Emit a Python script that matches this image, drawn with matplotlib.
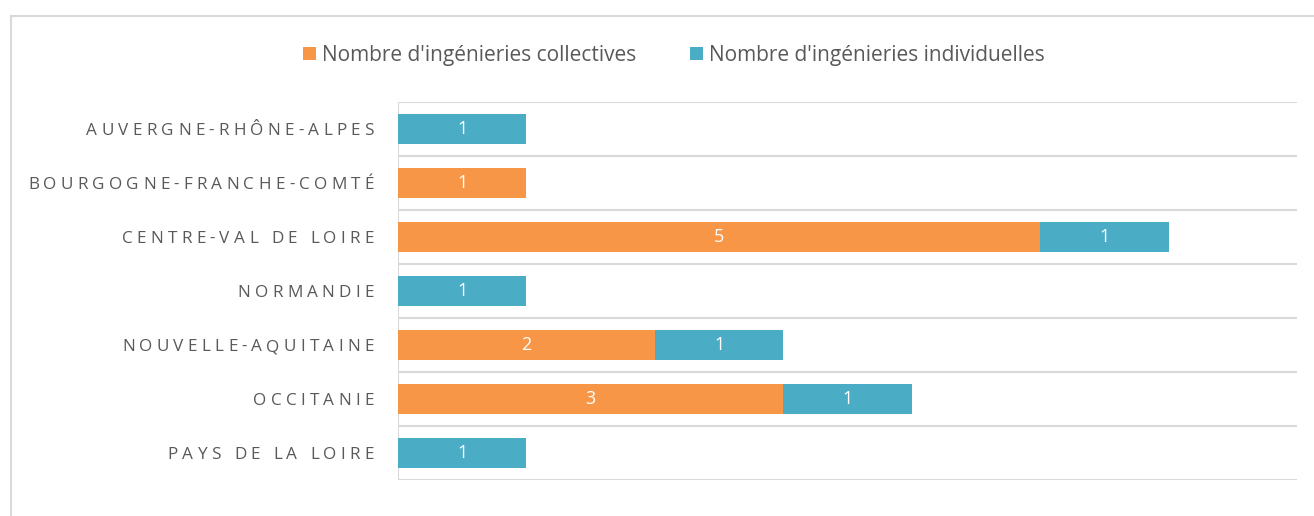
import matplotlib.pyplot as plt
import matplotlib.transforms as mtransforms
from matplotlib.font_manager import FontProperties

# Data
regions = [
    "AUVERGNE-RHÔNE-ALPES",
    "BOURGOGNE-FRANCHE-COMTÉ",
    "CENTRE-VAL DE LOIRE",
    "NORMANDIE",
    "NOUVELLE-AQUITAINE",
    "OCCITANIE",
    "PAYS DE LA LOIRE",
]
collectives = [0, 1, 5, 0, 2, 3, 0]
individuelles = [1, 0, 1, 1, 1, 1, 1]
series_names = ["Nombre d'ingénieries collectives", "Nombre d'ingénieries individuelles"]

ORANGE = "#F79646"
BLUE = "#4BACC6"
GRID = "#D9D9D9"
TEXT = "#595959"
DPI = 100

plt.rcParams["font.family"] = ["Open Sans", "DejaVu Sans"]

fig = plt.figure(figsize=(13.14, 5.16), dpi=DPI)
ax = fig.add_axes([398 / 1314, 36 / 516, 899 / 1314, 378 / 516])

y = list(range(len(regions)))
h = 0.56
b1 = ax.barh(y, collectives, height=h, color=ORANGE, label=series_names[0])
b2 = ax.barh(y, individuelles, left=collectives, height=h, color=BLUE, label=series_names[1])

for bars, vals in ((b1, collectives), (b2, individuelles)):
    for rect, v in zip(bars, vals):
        if v:
            ax.text(rect.get_x() + rect.get_width() / 2, rect.get_y() + rect.get_height() / 2,
                    str(v), ha="center", va="center", color="white", fontsize=13)

ax.set_xlim(0, 7)
ax.set_ylim(len(regions) - 0.5, -0.5)
for i in range(len(regions) + 1):
    ax.axhline(i - 0.5, color=GRID, lw=1.5, zorder=0)
ax.axvline(0, color=GRID, lw=1.5, zorder=0)

ax.set_yticks([])
ax.set_xticks([])
for s in ax.spines.values():
    s.set_visible(False)

# category labels with wide letter spacing, drawn one character at a time
fp = FontProperties(family=["Open Sans", "DejaVu Sans"], size=12.3)
renderer = fig.canvas.get_renderer()


def char_width(c):
    wa = renderer.get_text_width_height_descent("H" + c + "H", fp, ismath=False)[0]
    wb = renderer.get_text_width_height_descent("HH", fp, ismath=False)[0]
    return wa - wb


widest = max(regions, key=len)
base = sum(char_width(c) for c in widest)
tracking = (346 - base) / (len(widest) - 1)

for yi, label in zip(y, regions):
    widths = [char_width(c) for c in label]
    x_px = -24.0
    for c, w in zip(reversed(label), reversed(widths)):
        x_px -= w
        tr = ax.get_yaxis_transform() + mtransforms.ScaledTranslation(x_px / DPI, -2 / DPI, fig.dpi_scale_trans)
        ax.text(0, yi, c, transform=tr, ha="left", va="center", fontproperties=fp, color=TEXT)
        x_px -= tracking

# chart border (left and top visible)
fig.add_artist(plt.Line2D([11 / 1314, 11 / 1314], [0, 1 - 16 / 516], color=GRID, lw=1.5))
fig.add_artist(plt.Line2D([11 / 1314, 1], [1 - 16 / 516, 1 - 16 / 516], color=GRID, lw=1.5))

fig.legend(handles=[b1, b2], loc="center", bbox_to_anchor=(674 / 1314, 1 - 55 / 516), ncol=2,
           frameon=False, fontsize=15, labelcolor=TEXT, handlelength=0.6, handleheight=0.6,
           handletextpad=0.3, columnspacing=2.6)

fig.savefig("out.png", dpi=DPI)
